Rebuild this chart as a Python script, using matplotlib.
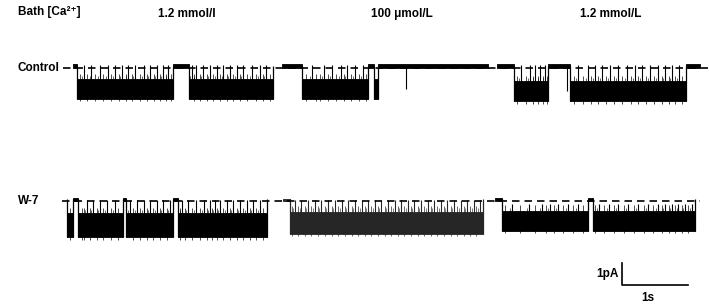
import numpy as np
import matplotlib
matplotlib.use('Agg')
import matplotlib.pyplot as plt

plt.rcParams['font.family'] = ['Liberation Sans', 'DejaVu Sans']
plt.rcParams['font.weight'] = 'bold'

# scale of the recording (1 s and 1 pA in pixels)
PX_S = 66.0
PX_PA = 22.0

conditions = ['1.2 mmol/l', '100 \u03bcmol/L', '1.2 mmol/L']
rows = ['Control', 'W-7']

# duration of every sweep (s)
dur_ctrl = [3.03, 3.12, 3.08]
dur_w7 = [3.03, 3.03, 3.03]

# open intervals (s from sweep start)
open_ctrl = [
    [(0.06, 1.52), (1.75, 3.03)],
    [(0.30, 1.31), (1.39, 1.46)],
    [(0.25, 0.78), (1.11, 2.87)],
]
open_w7 = [
    [(0.0, 0.09), (0.17, 0.85), (0.90, 1.61), (1.68, 3.03)],
    [(0.10, 3.03)],
    [(0.10, 1.41), (1.49, 3.03)],
]

# brief full closures (s) inside open periods
closures_ctrl = [
    [0.16, 0.28, 0.41, 0.53, 0.64, 0.74, 0.84, 0.94, 1.07, 1.17, 1.27, 1.37, 1.44,
     1.80, 1.87, 1.97, 2.08, 2.18, 2.28, 2.38, 2.48, 2.58, 2.71, 2.83, 2.93],
    [0.45, 0.63, 0.75, 0.90, 0.98, 1.11, 1.23],
    [0.37, 0.50, 0.58, 0.65, 0.73, 1.23, 1.38, 1.48, 1.59, 1.71, 1.84, 1.97,
     2.09, 2.19, 2.32, 2.44, 2.55, 2.65, 2.75],
]
closures_w7 = [
    [0.30, 0.40, 0.50, 0.60, 0.73, 0.95, 1.06, 1.16, 1.26, 1.36, 1.46, 1.56, 1.74,
     1.84, 1.96, 2.07, 2.17, 2.24, 2.32, 2.42, 2.52, 2.62, 2.72, 2.82, 2.92],
    [0.18, 0.28, 0.38, 0.48, 0.58, 0.68, 0.79, 0.89, 0.99, 1.09, 1.19, 1.29, 1.39,
     1.49, 1.59, 1.69, 1.79, 1.89, 1.99, 2.09, 2.19, 2.29, 2.39, 2.49, 2.59, 2.69,
     2.79, 2.89, 2.98],
    [0.25, 0.51, 0.71, 0.83, 0.96, 1.11, 1.26, 1.57, 1.72, 1.87, 2.02, 2.17, 2.32,
     2.47, 2.58, 2.68, 2.78, 2.88, 2.98],
]

# partial flickers (s) inside open periods
flick_ctrl = [
    [0.10, 0.21, 0.34, 0.46, 0.58, 0.69, 0.80, 0.89, 1.01, 1.12, 1.22, 1.32, 1.41, 1.48,
     1.83, 1.92, 2.03, 2.12, 2.23, 2.34, 2.43, 2.53, 2.64, 2.77, 2.88, 2.98],
    [0.36, 0.52, 0.58, 0.69, 0.82, 0.94, 1.04, 1.17, 1.28],
    [0.30, 0.44, 0.54, 0.62, 0.70, 0.76, 1.17, 1.30, 1.43, 1.53, 1.65, 1.77, 1.90,
     2.03, 2.14, 2.25, 2.38, 2.50, 2.60, 2.70, 2.81],
]
flick_w7 = [
    [0.05, 0.22, 0.26, 0.35, 0.45, 0.55, 0.66, 0.78, 1.00, 1.11, 1.21, 1.31, 1.41, 1.51,
     1.71, 1.79, 1.90, 2.01, 2.12, 2.20, 2.28, 2.37, 2.47, 2.57, 2.67, 2.77, 2.87, 2.97],
    [0.13, 0.23, 0.33, 0.43, 0.53, 0.63, 0.74, 0.84, 0.94, 1.04, 1.14, 1.24, 1.34, 1.44,
     1.54, 1.64, 1.74, 1.84, 1.94, 2.04, 2.14, 2.24, 2.34, 2.44, 2.54, 2.64, 2.74, 2.84,
     2.93],
    [0.15, 0.38, 0.61, 0.77, 0.90, 1.03, 1.18, 1.33, 1.52, 1.65, 1.80, 1.95, 2.10, 2.25,
     2.40, 2.53, 2.63, 2.73, 2.83, 2.93],
]

# brief openings (s) inside closed periods
openings_ctrl = [[], [1.88], [1.06]]
openings_w7 = [[], [], []]

# open level (pA), half width of the noise band, top of closed noise, closure reach
level_ctrl = [-0.95, -0.95, -1.05]
level_w7 = [-1.10, -0.98, -0.90]
band_ctrl = [0.45, 0.45, 0.45]
band_w7 = [0.55, 0.50, 0.45]
closed_top_ctrl = [0.16, 0.18, 0.16]
closed_top_w7 = [0.12, 0.10, 0.12]
reach_ctrl = [0.12, 0.12, 0.12]
reach_w7 = [0.05, 0.05, -0.15]


def px_x(p):
    return p / PX_S


def px_y(p):
    return -p / PX_PA


def draw_sweep(ax, x0, y0, dur, opens, closes, flicks, brief, level, band, ctop, reach, color):
    edges = [0.0]
    for a, b in opens:
        edges += [a, b]
    edges.append(dur)
    edges = np.array(sorted(set(edges)))
    mid = (edges[:-1] + edges[1:]) / 2
    is_open = np.array([any(a <= m <= b for a, b in opens) for m in mid])
    lo = np.where(is_open, level - band, -0.02)
    hi = np.where(is_open, level + band, ctop)
    lo = np.append(lo, lo[-1])
    hi = np.append(hi, hi[-1])
    ax.fill_between(x0 + edges, y0 + lo, y0 + hi, step='post', color=color, lw=0.6, ec=color)
    # transitions
    for a, b in opens:
        ax.vlines([x0 + a, x0 + b], y0 + level - band, y0 + 0.1, color=color, lw=0.9)
    closes = np.array(closes)
    flicks = np.array(flicks)
    ax.vlines(x0 + closes, y0 + level, y0 + reach, color=color, lw=0.8)
    ax.vlines(x0 + flicks, y0 + level - band - 0.12, y0 + level + band + 0.25,
              color=color, lw=0.7, alpha=0.7)
    ax.vlines(x0 + closes - 0.03, y0 + level, y0 + level + band + 0.15, color=color, lw=0.7,
              alpha=0.6)
    if brief:
        ax.vlines(x0 + np.array(brief), y0 + level, y0 + 0.1, color=color, lw=0.8)


fig = plt.figure(figsize=(7.09, 3.06), dpi=100)
ax = fig.add_axes([0, 0, 1, 1])
ax.set_xlim(0, 709 / PX_S)
ax.set_ylim(-306 / PX_PA, 0)
ax.axis('off')

row_y = [68, 201]
row_dash = [(63, 709), (62, 700)]
starts = [[73, 282, 497], [67, 283, 495]]
data = [
    (dur_ctrl, open_ctrl, closures_ctrl, flick_ctrl, openings_ctrl, level_ctrl, band_ctrl,
     closed_top_ctrl, reach_ctrl),
    (dur_w7, open_w7, closures_w7, flick_w7, openings_w7, level_w7, band_w7,
     closed_top_w7, reach_w7),
]
colors = [['black'] * 3, ['black', '#262626', 'black']]

for r in range(2):
    y0 = px_y(row_y[r])
    ax.plot([px_x(row_dash[r][0]), px_x(row_dash[r][1])], [y0, y0], color='black',
            lw=1.2, ls=(0, (4.5, 3.0)), zorder=5)
    durs, opens, closes, flicks, brief, levels, bands, ctops, reach = data[r]
    for c in range(3):
        draw_sweep(ax, px_x(starts[r][c]), y0, durs[c], opens[c], closes[c], flicks[c],
                   brief[c], levels[c], bands[c], ctops[c], reach[c], colors[r][c])
    fig.text(18 / 709, 1 - row_y[r] / 306, rows[r], ha='left', va='center', fontsize=8.5)

fig.text(18 / 709, 1 - 12 / 306, 'Bath [Ca\u00b2\u207a]', ha='left', va='center', fontsize=8.5)
for x, lab in zip([187, 402, 611], conditions):
    fig.text(x / 709, 1 - 14 / 306, lab, ha='center', va='center', fontsize=8.5)

# scale bar: 1 s, 1 pA
sx, sy = px_x(622), px_y(285)
ax.plot([sx, sx, sx + 1.0], [sy + 1.0, sy, sy], color='black', lw=1.2)
fig.text(619 / 709, 1 - 274 / 306, '1pA', ha='right', va='center', fontsize=8.5)
fig.text(648 / 709, 1 - 298 / 306, '1s', ha='center', va='center', fontsize=8.5)

fig.savefig('out.png', dpi=100)
